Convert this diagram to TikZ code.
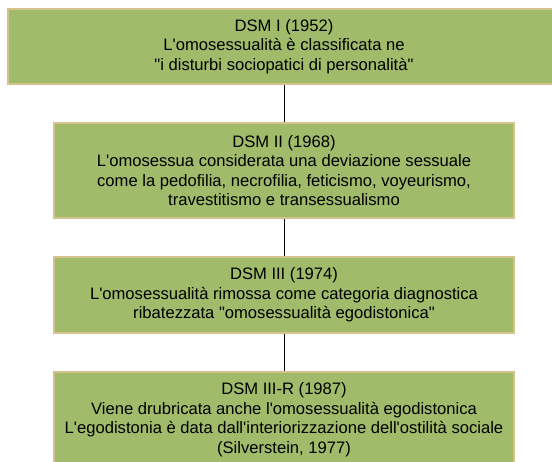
\documentclass[tikz,border=0pt]{standalone}
\usepackage{fontspec}
\setmainfont{Liberation Sans}[Ligatures=TeXOff]
\usetikzlibrary{positioning}
\definecolor{dsmgreen}{RGB}{160,188,106}
\definecolor{dsmtan}{RGB}{214,194,140}

\begin{document}
\begin{tikzpicture}[x=1pt, y=1pt, node distance=37pt, semithick,
    era/.style={draw=dsmtan, fill=dsmgreen, line width=2pt, align=center,
        minimum width=460pt, inner sep=0pt, font=\fontsize{16.6}{19.5}\selectfont}]
    \clip (0,0) rectangle (552,-462);
    \node[era, minimum width=552pt, minimum height=75pt] (dsm1) at (284,-46.5)
        {DSM I (1952)\\L'omosessualità è classificata ne\\"i disturbi sociopatici di personalità"};
    \node[era, minimum height=95pt] (dsm2) [below=of dsm1]
        {DSM II (1968)\\L'omosessua considerata una deviazione sessuale\\come la pedofilia, necrofilia, feticismo, voyeurismo,\\travestitismo e transessualismo};
    \node[era, minimum height=76pt] (dsm3) [below=of dsm2]
        {DSM III (1974)\\L'omosessualità rimossa come categoria diagnostica\\ribatezzata "omosessualità egodistonica"};
    \node[era, minimum height=95pt] (dsm3r) [below=of dsm3]
        {DSM III-R (1987)\\Viene drubricata anche l'omosessualità egodistonica\\L'egodistonia è data dall'interiorizzazione dell'ostilità sociale\\(Silverstein, 1977)};

    \path[draw=black]
    (dsm1) edge (dsm2)
    (dsm2) edge (dsm3)
    (dsm3) edge (dsm3r);
\end{tikzpicture}
\end{document}
